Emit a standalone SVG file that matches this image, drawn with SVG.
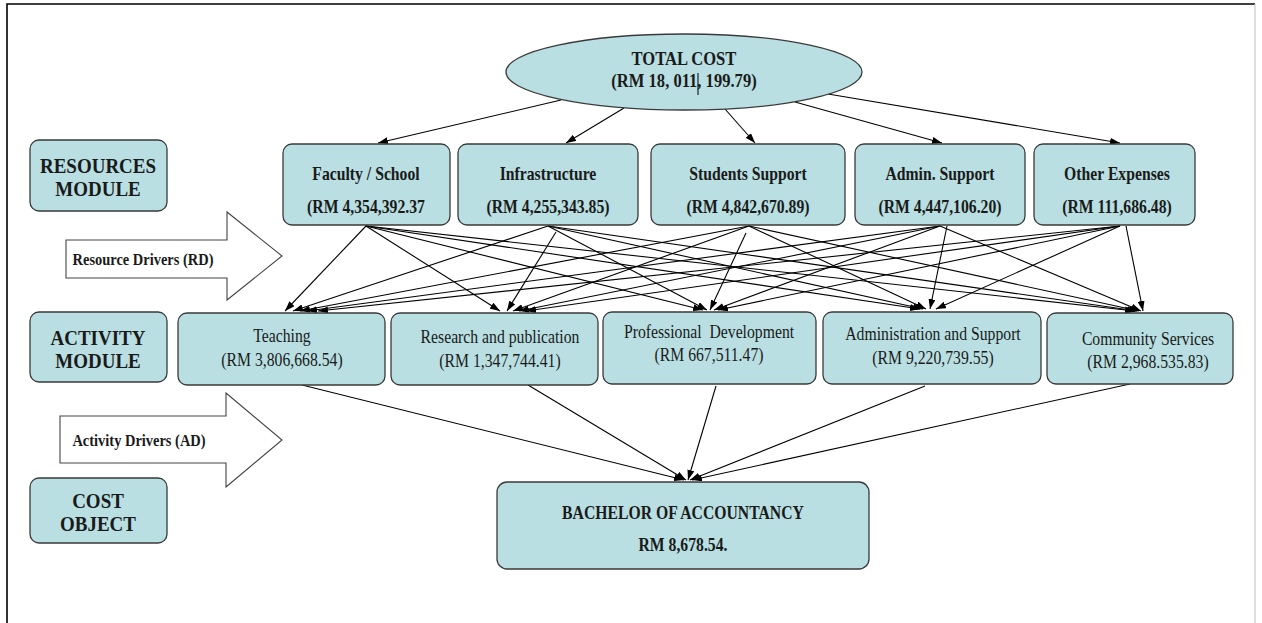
<svg xmlns="http://www.w3.org/2000/svg" width="1262" height="623" viewBox="0 0 1262 623">
  <style>
    .box { fill: #b9dfe2; stroke: #3a3a3a; stroke-width: 1.3; }
    .frame { stroke: #000; stroke-width: 1.6; fill: none; }
    .frame-r { stroke: #c8c8c8; stroke-width: 1.2; fill: none; }
    .drv { fill: #fff; stroke: #444; stroke-width: 1.1; }
    .edge { stroke: #000; stroke-width: 1.1; fill: none; marker-end: url(#ah); }
    text { font-family: "Liberation Serif", "Times New Roman", serif; fill: #1a1a1a; text-anchor: middle; }
    .b { font-weight: bold; font-size: 18.5px; }
    .r { font-size: 18.5px; }
    .big { font-weight: bold; font-size: 19.5px; }
    .mod { font-weight: bold; font-size: 20px; }
    .d { font-weight: bold; font-size: 17px; }
  </style>
  <defs>
    <marker id="ah" markerUnits="userSpaceOnUse" markerWidth="10" markerHeight="7" refX="10" refY="3.5" orient="auto">
      <path d="M0,0 L10,3.5 L0,7 z" fill="#000"/>
    </marker>
  </defs>

  <rect width="1262" height="623" fill="#fff"/>
  <!-- page frame -->
  <path class="frame" d="M7,623 V4 H1255"/>
  <path class="frame-r" d="M1255,4 V623"/>

  <!-- connectors -->
  <g id="connectors">
    <!-- total cost to resources -->
    <line class="edge" x1="561" y1="100" x2="378" y2="143"/>
    <line class="edge" x1="624" y1="108" x2="566" y2="143"/>
    <line class="edge" x1="725" y1="109" x2="755" y2="143"/>
    <line class="edge" x1="795" y1="102" x2="942" y2="143"/>
    <line class="edge" x1="828" y1="94" x2="1120" y2="143"/>

    <!-- resources to activities -->
    <line class="edge" x1="366" y1="226" x2="285" y2="311"/>
    <line class="edge" x1="366" y1="226" x2="500" y2="311"/>
    <line class="edge" x1="366" y1="226" x2="703" y2="310"/>
    <line class="edge" x1="366" y1="226" x2="920" y2="309"/>
    <line class="edge" x1="366" y1="226" x2="1135" y2="311"/>

    <line class="edge" x1="548" y1="226" x2="293" y2="311"/>
    <line class="edge" x1="556" y1="232" x2="507" y2="311"/>
    <line class="edge" x1="548" y1="226" x2="707" y2="310"/>
    <line class="edge" x1="548" y1="226" x2="923" y2="309"/>
    <line class="edge" x1="548" y1="226" x2="1137" y2="311"/>

    <line class="edge" x1="749" y1="226" x2="300" y2="311"/>
    <line class="edge" x1="749" y1="226" x2="513" y2="311"/>
    <line class="edge" x1="746" y1="233" x2="710" y2="310"/>
    <line class="edge" x1="749" y1="226" x2="926" y2="309"/>
    <line class="edge" x1="749" y1="226" x2="1139" y2="311"/>

    <line class="edge" x1="940" y1="226" x2="307" y2="311"/>
    <line class="edge" x1="940" y1="226" x2="519" y2="311"/>
    <line class="edge" x1="940" y1="226" x2="714" y2="310"/>
    <line class="edge" x1="947" y1="226" x2="930" y2="309"/>
    <line class="edge" x1="940" y1="226" x2="1141" y2="311"/>

    <line class="edge" x1="1120" y1="226" x2="318" y2="311"/>
    <line class="edge" x1="1120" y1="226" x2="526" y2="311"/>
    <line class="edge" x1="1120" y1="226" x2="718" y2="310"/>
    <line class="edge" x1="1120" y1="226" x2="936" y2="309"/>
    <line class="edge" x1="1126" y1="226" x2="1143" y2="311"/>

    <!-- activities to cost object -->
    <line class="edge" x1="302" y1="385" x2="684" y2="480"/>
    <line class="edge" x1="528" y1="385" x2="686" y2="480"/>
    <line class="edge" x1="716" y1="386" x2="688" y2="480"/>
    <line class="edge" x1="925" y1="386" x2="690" y2="480"/>
    <line class="edge" x1="1130" y1="384" x2="692" y2="480"/>
  </g>

  <!-- module labels -->
  <g id="resources-module">
    <rect class="box" x="30" y="140" width="137" height="71" rx="9"/>
    <text class="mod" transform="translate(98,173) scale(.95,1)">RESOURCES</text>
    <text class="mod" transform="translate(98,196) scale(.95,1)">MODULE</text>
  </g>
  <g id="activity-module">
    <rect class="box" x="30" y="312" width="137" height="70" rx="9"/>
    <text class="mod" transform="translate(98,345) scale(.95,1)">ACTIVITY</text>
    <text class="mod" transform="translate(98,368) scale(.95,1)">MODULE</text>
  </g>
  <g id="cost-object">
    <rect class="box" x="30" y="478" width="137" height="65" rx="9"/>
    <text class="mod" transform="translate(98,508) scale(.95,1)">COST</text>
    <text class="mod" transform="translate(98,531) scale(.95,1)">OBJECT</text>
  </g>

  <!-- driver arrows -->
  <g id="resource-drivers">
    <polygon class="drv" points="66,240 227,240 227,212 282,256 227,300 227,278 66,278"/>
    <text class="d" transform="translate(143,265) scale(.85,1)">Resource Drivers (RD)</text>
  </g>
  <g id="activity-drivers">
    <polygon class="drv" points="60,416 226,416 226,393 282,440 226,487 226,463 60,463"/>
    <text class="d" transform="translate(139,446) scale(.85,1)">Activity Drivers (AD)</text>
  </g>

  <!-- total cost -->
  <g id="total-cost">
    <ellipse class="box" cx="684" cy="72" rx="178" ry="38"/>
    <text class="big" transform="translate(684,65) scale(.85,1)">TOTAL COST</text>
    <text class="big" transform="translate(684,87) scale(.85,1)">(RM 18, 011, 199.79)</text>
    <line x1="698" y1="73" x2="698" y2="95" stroke="#000" stroke-width="1"/>
  </g>

  <!-- resources -->
  <g id="faculty-school">
    <rect class="box" x="283" y="144" width="167" height="81" rx="9"/>
    <text class="b" transform="translate(366,180) scale(.85,1)">Faculty / School</text>
    <text class="b" transform="translate(366,213) scale(.85,1)">(RM 4,354,392.37</text>
  </g>
  <g id="infrastructure">
    <rect class="box" x="458" y="144" width="180" height="81" rx="9"/>
    <text class="b" transform="translate(548,180) scale(.85,1)">Infrastructure</text>
    <text class="b" transform="translate(548,213) scale(.85,1)">(RM 4,255,343.85)</text>
  </g>
  <g id="students-support">
    <rect class="box" x="651" y="144" width="194" height="81" rx="9"/>
    <text class="b" transform="translate(748,180) scale(.85,1)">Students Support</text>
    <text class="b" transform="translate(748,213) scale(.85,1)">(RM 4,842,670.89)</text>
  </g>
  <g id="admin-support">
    <rect class="box" x="855" y="144" width="170" height="81" rx="9"/>
    <text class="b" transform="translate(940,180) scale(.85,1)">Admin. Support</text>
    <text class="b" transform="translate(940,213) scale(.85,1)">(RM 4,447,106.20)</text>
  </g>
  <g id="other-expenses">
    <rect class="box" x="1034" y="144" width="161" height="81" rx="9"/>
    <text class="b" transform="translate(1117,180) scale(.85,1)">Other Expenses</text>
    <text class="b" transform="translate(1117,213) scale(.85,1)">(RM 111,686.48)</text>
  </g>

  <!-- activities -->
  <g id="teaching">
    <rect class="box" x="178" y="313" width="207" height="72" rx="9"/>
    <text class="r" transform="translate(282,342) scale(.85,1)">Teaching</text>
    <text class="r" transform="translate(282,366) scale(.85,1)">(RM 3,806,668.54)</text>
  </g>
  <g id="research">
    <rect class="box" x="391" y="313" width="207" height="72" rx="9"/>
    <text class="r" transform="translate(500,343) scale(.85,1)">Research and publication</text>
    <text class="r" transform="translate(500,367) scale(.85,1)">(RM 1,347,744.41)</text>
  </g>
  <g id="professional-development">
    <rect class="box" x="603" y="312" width="213" height="72" rx="9"/>
    <text class="r" transform="translate(709,338) scale(.85,1)" xml:space="preserve">Professional  Development</text>
    <text class="r" transform="translate(709,361) scale(.85,1)">(RM 667,511.47)</text>
  </g>
  <g id="administration-support">
    <rect class="box" x="823" y="312" width="218" height="72" rx="9"/>
    <text class="r" transform="translate(933,340) scale(.85,1)">Administration and Support</text>
    <text class="r" transform="translate(933,364) scale(.85,1)">(RM 9,220,739.55)</text>
  </g>
  <g id="community-services">
    <rect class="box" x="1047" y="313" width="186" height="71" rx="9"/>
    <text class="r" transform="translate(1148,345) scale(.85,1)">Community Services</text>
    <text class="r" transform="translate(1148,368) scale(.85,1)">(RM 2,968.535.83)</text>
  </g>

  <!-- cost object -->
  <g id="bachelor-of-accountancy">
    <rect class="box" x="497" y="482" width="372" height="87" rx="10"/>
    <text class="b" transform="translate(683,519) scale(.85,1)">BACHELOR OF ACCOUNTANCY</text>
    <text class="b" transform="translate(683,551) scale(.85,1)">RM 8,678.54.</text>
  </g>
</svg>
